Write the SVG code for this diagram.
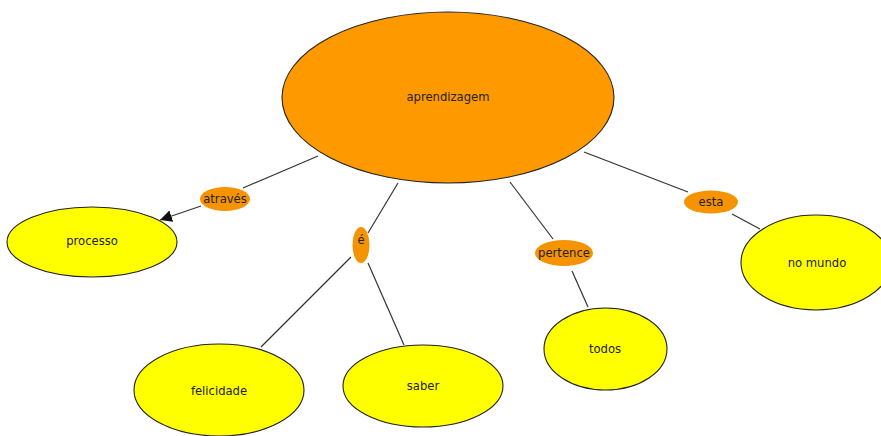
<svg xmlns="http://www.w3.org/2000/svg" width="881" height="436" viewBox="0 0 881 436">
  <style>
    .concept { fill: #ffff00; stroke: #222; stroke-width: 1.1; }
    .root { fill: #ff9900; stroke: #222; stroke-width: 1.1; }
    .link { fill: #f59300; stroke: none; }
    .txt { font-family: "DejaVu Sans", Verdana, sans-serif; font-size: 11.6px; fill: #222; text-anchor: middle; dominant-baseline: central; }
    .conn line { stroke: #333; stroke-width: 1.2; fill: none; }
  </style>
  <defs>
    <marker id="arrow" viewBox="0 0 10 10" refX="10" refY="5" markerWidth="12" markerHeight="12" markerUnits="userSpaceOnUse" orient="auto">
      <path d="M0,0 L10,5 L0,10 z" fill="#111"/>
    </marker>
  </defs>

  <g id="connectors" class="conn">
    <line x1="318" y1="156" x2="243" y2="188"/>
    <line x1="201" y1="206" x2="160" y2="220" marker-end="url(#arrow)"/>
    <line x1="398" y1="183" x2="368" y2="233"/>
    <line x1="351" y1="257" x2="261" y2="347"/>
    <line x1="368" y1="263" x2="404" y2="345"/>
    <line x1="510" y1="182" x2="553" y2="239"/>
    <line x1="572" y1="271" x2="588" y2="307"/>
    <line x1="584" y1="152" x2="688" y2="192"/>
    <line x1="732" y1="214" x2="760" y2="229"/>
  </g>

  <g id="aprendizagem">
    <ellipse class="root" cx="448" cy="97.5" rx="166" ry="85.5"/>
    <text class="txt" x="448" y="97">aprendizagem</text>
  </g>

  <g id="atraves">
    <ellipse class="link" cx="225" cy="199" rx="25" ry="12"/>
    <text class="txt" x="225" y="199">através</text>
  </g>

  <g id="e">
    <ellipse class="link" cx="361" cy="245" rx="8.5" ry="18"/>
    <text class="txt" x="361" y="240">é</text>
  </g>

  <g id="pertence">
    <ellipse class="link" cx="564" cy="253" rx="29" ry="13"/>
    <text class="txt" x="564" y="253">pertence</text>
  </g>

  <g id="esta">
    <ellipse class="link" cx="711" cy="202" rx="27" ry="11.5"/>
    <text class="txt" x="711" y="202">esta</text>
  </g>

  <g id="processo">
    <ellipse class="concept" cx="92" cy="242" rx="85" ry="35"/>
    <text class="txt" x="92" y="241">processo</text>
  </g>

  <g id="felicidade">
    <ellipse class="concept" cx="219" cy="390" rx="85" ry="46"/>
    <text class="txt" x="219" y="391">felicidade</text>
  </g>

  <g id="saber">
    <ellipse class="concept" cx="423" cy="386" rx="80" ry="41"/>
    <text class="txt" x="423" y="386">saber</text>
  </g>

  <g id="todos">
    <ellipse class="concept" cx="605.5" cy="349" rx="61.5" ry="41"/>
    <text class="txt" x="605" y="349">todos</text>
  </g>

  <g id="no-mundo">
    <ellipse class="concept" cx="816" cy="262.5" rx="75" ry="47.5"/>
    <text class="txt" x="817" y="263">no mundo</text>
  </g>
</svg>
